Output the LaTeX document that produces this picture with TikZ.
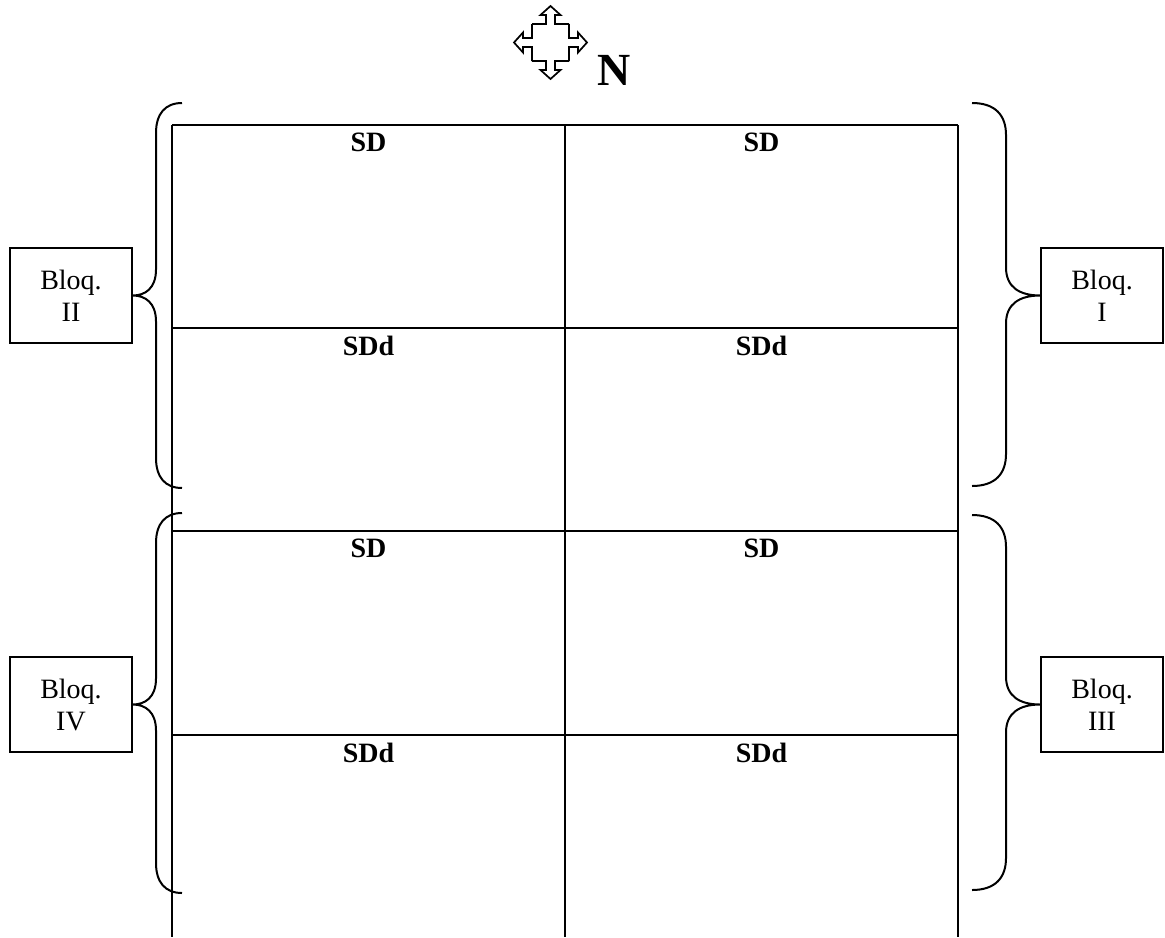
\documentclass[tikz,border=0pt]{standalone}
\usepackage{fontspec}
\setmainfont{Liberation Serif}
\begin{document}
\begin{tikzpicture}[x=0.5pt,y=-0.5pt,
    bloque/.style={draw, line width=0.8pt, minimum width=61pt, minimum height=47.5pt, align=center, inner sep=0pt, font=\fontsize{14}{16}\selectfont},
    parcela/.style={anchor=north, inner sep=0pt, font=\bfseries\fontsize{14}{16}\selectfont},
    llave/.style={line width=1pt}]
\useasboundingbox (0,0) rectangle (1165,937);
    % rosa de los vientos
    \foreach \r in {0,90,180,270}
\draw[line width=0.85pt, line join=miter, shift={(550.5,42.5)}, rotate=\r]
(-18.5,-18.5) -- (-4.5,-18.5) -- (-4.5,-27.5) -- (-10,-27.5) --
(0,-36.5) --
(10,-27.5) -- (4.5,-27.5) -- (4.5,-18.5) -- (18.5,-18.5);
    \node[anchor=base west, inner sep=0pt, font=\bfseries\fontsize{23}{25}\selectfont] (norte) at (597,85) {N};
    % parcelas
    \draw[line width=1.2pt]
(172,125) --
(958,125);
    \foreach \y in {328,531,735}
\draw[line width=1.2pt] (172,\y) -- (958,\y);
    \foreach \x in {172,565,958}
\draw[line width=1.2pt] (\x,125) -- (\x,937);
    \foreach \x/\c in {368.5/a,761.5/b}{
\node[parcela] (sdA\c) at (\x,133) {SD};
\node[parcela] (sddA\c) at (\x,336) {SDd};
\node[parcela] (sdB\c) at (\x,539) {SD};
\node[parcela] (sddB\c) at (\x,743) {SDd};
    }
    % bloques
    \node[bloque] (b2) at (71,295.5) {Bloq.\\II};
    \node[bloque] (b4) at (71,704.5) {Bloq.\\IV};
    \node[bloque] (b1) at (1102,295.5) {Bloq.\\I};
    \node[bloque] (b3) at (1102,704.5) {Bloq.\\III};
    % llaves
    \foreach \n/\t/\m/\b in {b2/103/295.5/488, b4/513/704.5/893}
\draw[llave]
(182,\t) .. controls (165,\t) and (156,\t+11) .. (156,\t+30) --
(156,\m-26) .. controls (156,\m-7) and (145,\m) .. (\n.east) ..
controls (145,\m) and (156,\m+7) .. (156,\m+26) --
(156,\b-30) .. controls (156,\b-11) and (165,\b) .. (182,\b);
    \foreach \n/\t/\m/\b in {b1/103/295.5/486, b3/515/704.5/890}
\draw[llave]
(972,\t) .. controls (995,\t) and (1006,\t+12) .. (1006,\t+32) --
(1006,\m-28) .. controls (1006,\m-8) and (1020,\m) .. (\n.west) ..
controls (1020,\m) and (1006,\m+8) .. (1006,\m+28) --
(1006,\b-32) .. controls (1006,\b-12) and (995,\b) .. (972,\b);
\end{tikzpicture}
\end{document}
